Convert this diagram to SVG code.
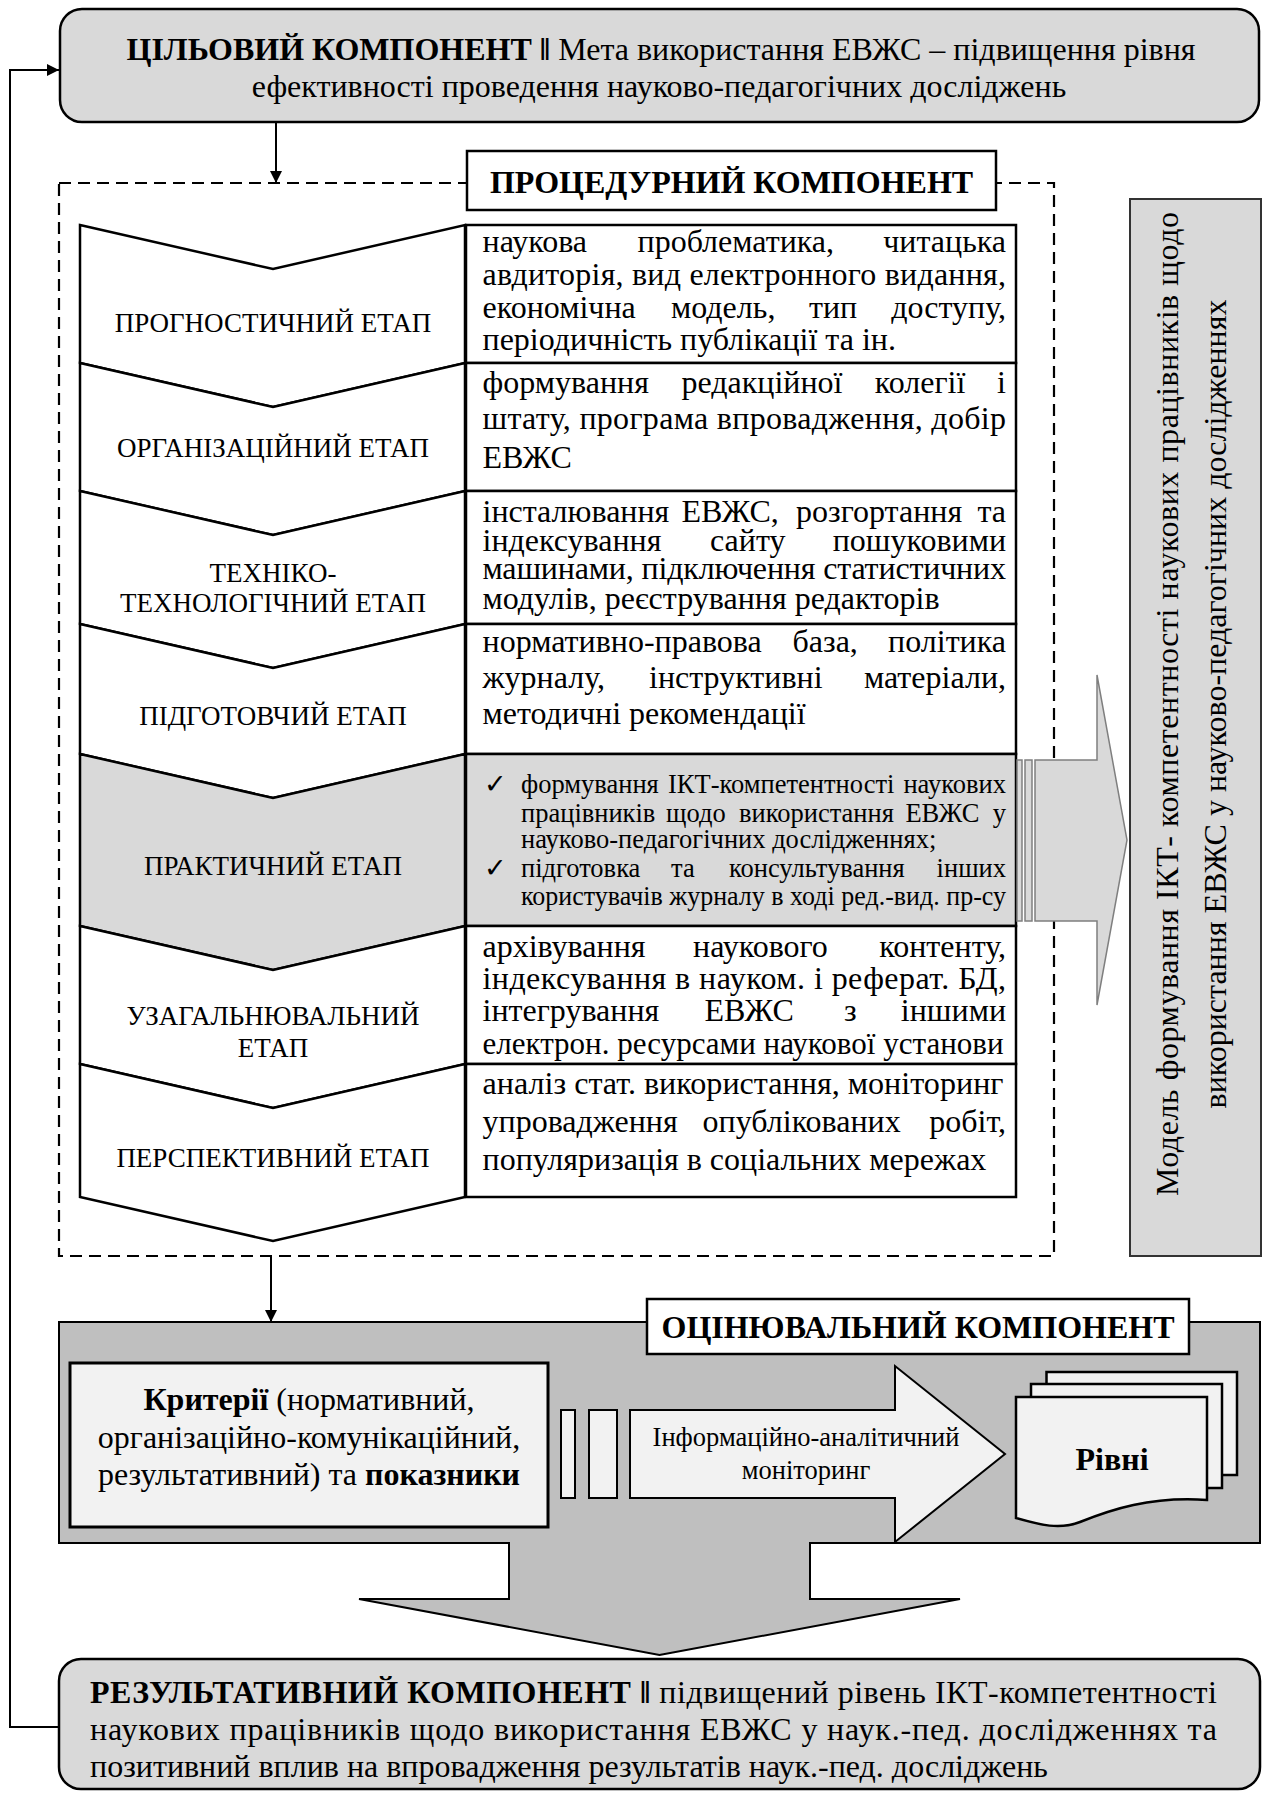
<svg xmlns="http://www.w3.org/2000/svg" width="1263" height="1795" viewBox="0 0 1263 1795">
<style>
text{font-family:"Liberation Serif","Times New Roman",serif;fill:#000}
.m{font-size:32px}
.s{font-size:26.5px}
.lab{font-size:27px;text-anchor:middle}
.b{font-weight:bold}
.c{text-anchor:middle}
.e{text-anchor:end}
.box{stroke:#000;stroke-width:2.5}
.chev{stroke:#000;stroke-width:2.5;stroke-linejoin:miter}
.conn{stroke:#000;stroke-width:2;fill:none}
</style>
<defs>
<marker id="ah2" viewBox="0 0 10 10" refX="10" refY="5" markerWidth="12" markerHeight="12" orient="auto" markerUnits="userSpaceOnUse">
<path d="M0,0 L10,5 L0,10 Z" fill="#000"/>
</marker>
</defs>

<g id="procedural-frame">
<rect x="59" y="183" width="995" height="1073" fill="none" stroke="#000" stroke-width="2.2" stroke-dasharray="12,7"/>
</g>

<g id="connectors">
<line class="conn" x1="276" y1="122" x2="276" y2="183" marker-end="url(#ah2)"/>
<line class="conn" x1="271" y1="1256" x2="271" y2="1322" marker-end="url(#ah2)"/>
<polyline class="conn" points="59,1727 10,1727 10,70 59,70" marker-end="url(#ah2)"/>
</g>

<g id="target">
<rect x="60" y="9" width="1199" height="113" rx="22" fill="#d9d9d9" class="box"/>
<text class="m c" x="661" y="60"><tspan class="b">ЦІЛЬОВИЙ КОМПОНЕНТ ‖</tspan> Мета використання ЕВЖС – підвищення рівня</text>
<text class="m c" x="659" y="97">ефективності проведення науково-педагогічних досліджень</text>
</g>

<g id="procedural-title">
<rect x="467" y="151" width="529" height="59" fill="#fff" stroke="#000" stroke-width="2.5"/>
<text class="m b c" x="731.5" y="193">ПРОЦЕДУРНИЙ КОМПОНЕНТ</text>
</g>

<g id="stage-1">
<polygon class="chev" fill="#fff" points="80,225 273,269 465,225 465,363 273,407 80,363"/>
<text class="lab" x="273" y="332">ПРОГНОСТИЧНИЙ ЕТАП</text>
</g>
<g id="stage-2">
<polygon class="chev" fill="#fff" points="80,363 273,407 465,363 465,491 273,535 80,491"/>
<text class="lab" x="273" y="457">ОРГАНІЗАЦІЙНИЙ ЕТАП</text>
</g>
<g id="stage-3">
<polygon class="chev" fill="#fff" points="80,491 273,535 465,491 465,624 273,668 80,624"/>
<text class="lab" x="273" y="582">ТЕХНІКО-</text>
<text class="lab" x="273" y="612">ТЕХНОЛОГІЧНИЙ ЕТАП</text>
</g>
<g id="stage-4">
<polygon class="chev" fill="#fff" points="80,624 273,668 465,624 465,754 273,798 80,754"/>
<text class="lab" x="273" y="725">ПІДГОТОВЧИЙ ЕТАП</text>
</g>
<g id="stage-5">
<polygon class="chev" fill="#d9d9d9" points="80,754 273,798 465,754 465,926 273,970 80,926"/>
<text class="lab" x="273" y="875">ПРАКТИЧНИЙ ЕТАП</text>
</g>
<g id="stage-6">
<polygon class="chev" fill="#fff" points="80,926 273,970 465,926 465,1064 273,1108 80,1064"/>
<text class="lab" x="273" y="1025">УЗАГАЛЬНЮВАЛЬНИЙ</text>
<text class="lab" x="273" y="1057">ЕТАП</text>
</g>
<g id="stage-7">
<polygon class="chev" fill="#fff" points="80,1064 273,1108 465,1064 465,1197 273,1241 80,1197"/>
<text class="lab" x="273" y="1167">ПЕРСПЕКТИВНИЙ ЕТАП</text>
</g>

<g id="desc-1">
<rect x="466" y="225" width="550" height="138" fill="#fff" class="box"/>
<text class="m" y="252"><tspan x="482.5">наукова</tspan><tspan x="637.5">проблематика,</tspan></text>
<text class="m e" x="1006" y="252">читацька</text>
<text class="m" x="482.5" y="285" textLength="523.5" lengthAdjust="spacing">авдиторія, вид електронного видання,</text>
<text class="m" y="317.5"><tspan x="482.5">економічна</tspan><tspan x="671">модель,</tspan><tspan x="809">тип</tspan></text>
<text class="m e" x="1006" y="317.5">доступу,</text>
<text class="m" x="482.5" y="350">періодичність публікації та ін.</text>
</g>
<g id="desc-2">
<rect x="466" y="363" width="550" height="128" fill="#fff" class="box"/>
<text class="m" y="393"><tspan x="482.5">формування</tspan><tspan x="681.5">редакційної</tspan><tspan x="874.8">колегії</tspan></text>
<text class="m e" x="1006" y="393">і</text>
<text class="m" x="482.5" y="429" textLength="523.5" lengthAdjust="spacing">штату, програма впровадження, добір</text>
<text class="m" x="482.5" y="468">ЕВЖС</text>
</g>
<g id="desc-3">
<rect x="466" y="491" width="550" height="133" fill="#fff" class="box"/>
<text class="m" y="522"><tspan x="482.5">інсталювання</tspan><tspan x="681.5">ЕВЖС,</tspan><tspan x="796">розгортання</tspan></text>
<text class="m e" x="1006" y="522">та</text>
<text class="m" y="550.5"><tspan x="482.5">індексування</tspan><tspan x="710">сайту</tspan></text>
<text class="m e" x="1006" y="550.5">пошуковими</text>
<text class="m" x="482.5" y="579" textLength="523.5" lengthAdjust="spacing">машинами, підключення статистичних</text>
<text class="m" x="482.5" y="608.5">модулів, реєстрування редакторів</text>
</g>
<g id="desc-4">
<rect x="466" y="624" width="550" height="130" fill="#fff" class="box"/>
<text class="m" y="652"><tspan x="482.5">нормативно-правова</tspan><tspan x="792.5">база,</tspan></text>
<text class="m e" x="1006" y="652">політика</text>
<text class="m" y="688"><tspan x="482.5">журналу,</tspan><tspan x="649">інструктивні</tspan></text>
<text class="m e" x="1006" y="688">матеріали,</text>
<text class="m" x="482.5" y="723.5">методичні рекомендації</text>
</g>
<g id="desc-5">
<rect x="466" y="754" width="550" height="172" fill="#d9d9d9" class="box"/>
<text class="s" x="484" y="793">✓</text>
<text class="s" y="793"><tspan x="521">формування</tspan><tspan x="668">ІКТ-компетентності</tspan></text>
<text class="s e" x="1006" y="793">наукових</text>
<text class="s" y="821.5"><tspan x="521">працівників</tspan><tspan x="666">щодо</tspan><tspan x="739">використання</tspan><tspan x="905.4">ЕВЖС</tspan></text>
<text class="s e" x="1006" y="821.5">у</text>
<text class="s" x="521" y="847.5">науково-педагогічних дослідженнях;</text>
<text class="s" x="484" y="876.5">✓</text>
<text class="s" y="876.5"><tspan x="521">підготовка</tspan><tspan x="671">та</tspan><tspan x="729">консультування</tspan></text>
<text class="s e" x="1006" y="876.5">інших</text>
<text class="s" x="521" y="905" textLength="485" lengthAdjust="spacingAndGlyphs">користувачів журналу в ході ред.-вид. пр-су</text>
</g>
<g id="desc-6">
<rect x="466" y="926" width="550" height="138" fill="#fff" class="box"/>
<text class="m" y="957"><tspan x="482.5">архівування</tspan><tspan x="693">наукового</tspan></text>
<text class="m e" x="1006" y="957">контенту,</text>
<text class="m" x="482.5" y="988.5" textLength="523.5" lengthAdjust="spacing">індексування в науком. і реферат. БД,</text>
<text class="m" y="1021"><tspan x="482.5">інтегрування</tspan><tspan x="704.5">ЕВЖС</tspan><tspan x="844">з</tspan></text>
<text class="m e" x="1006" y="1021">іншими</text>
<text class="m" x="482.5" y="1054" textLength="521" lengthAdjust="spacingAndGlyphs">електрон. ресурсами наукової установи</text>
</g>
<g id="desc-7">
<rect x="466" y="1064" width="550" height="133" fill="#fff" class="box"/>
<text class="m" x="482.5" y="1093.5" textLength="521" lengthAdjust="spacingAndGlyphs">аналіз стат. використання, моніторинг</text>
<text class="m" y="1131.5"><tspan x="482.5">упровадження</tspan><tspan x="702.6">опублікованих</tspan></text>
<text class="m e" x="1006" y="1131.5">робіт,</text>
<text class="m" x="482.5" y="1169.5">популяризація в соціальних мережах</text>
</g>

<g id="practice-arrow">
<rect x="1017" y="760" width="5" height="161" fill="#d9d9d9" stroke="#7f7f7f" stroke-width="1.5"/>
<rect x="1025" y="760" width="7" height="161" fill="#d9d9d9" stroke="#7f7f7f" stroke-width="1.5"/>
<polygon points="1035,760 1097,760 1097,675 1127,840 1097,1005 1097,921 1035,921" fill="#d9d9d9" stroke="#7f7f7f" stroke-width="1.5"/>
</g>

<g id="model">
<rect x="1130" y="199" width="131" height="1057" fill="#d9d9d9" stroke="#333" stroke-width="2"/>
<text class="m c" transform="translate(1178,704) rotate(-90)" textLength="984" lengthAdjust="spacing">Модель формування ІКТ- компетентності наукових працівників щодо</text>
<text class="m c" transform="translate(1226,704) rotate(-90)">використання ЕВЖС у науково-педагогічних дослідженнях</text>
</g>

<g id="evaluation">
<path d="M59,1322 H1260 V1543 H810 V1599 H960 L659.5,1655 L359,1599 H509 V1543 H59 Z" fill="#bfbfbf" stroke="#000" stroke-width="2"/>
</g>
<g id="evaluation-title">
<rect x="647" y="1299" width="542" height="55" fill="#fff" stroke="#000" stroke-width="2.5"/>
<text class="m b c" x="918" y="1338">ОЦІНЮВАЛЬНИЙ КОМПОНЕНТ</text>
</g>
<g id="criteria">
<rect x="70" y="1363" width="478" height="164" fill="#f2f2f2" stroke="#000" stroke-width="3"/>
<text class="m c" x="309" y="1410"><tspan class="b">Критерії</tspan> (нормативний,</text>
<text class="m c" x="309" y="1448">організаційно-комунікаційний,</text>
<text class="m c" x="309" y="1485">результативний) та <tspan class="b">показники</tspan></text>
</g>
<g id="monitoring">
<rect x="561" y="1410" width="14" height="88" fill="#f2f2f2" stroke="#000" stroke-width="2"/>
<rect x="589" y="1410" width="28" height="88" fill="#f2f2f2" stroke="#000" stroke-width="2"/>
<polygon points="630,1410 895,1410 895,1366 1005,1454 895,1542 895,1498 630,1498" fill="#f2f2f2" stroke="#000" stroke-width="2"/>
<text class="s c" x="806" y="1446">Інформаційно-аналітичний</text>
<text class="s c" x="806" y="1479">моніторинг</text>
</g>
<g id="levels">
<rect x="1046.5" y="1372" width="190.5" height="103" fill="#f2f2f2" stroke="#000" stroke-width="2.5"/>
<rect x="1031" y="1384" width="191" height="104" fill="#f2f2f2" stroke="#000" stroke-width="2.5"/>
<path d="M1016,1397 H1207 V1500 C1150,1496 1110,1510 1080,1522 C1060,1530 1040,1525 1016,1518 Z" fill="#f2f2f2" stroke="#000" stroke-width="2.5"/>
<text class="m b c" x="1112" y="1470">Рівні</text>
</g>

<g id="result">
<rect x="59" y="1659" width="1201" height="130" rx="22" fill="#d9d9d9" class="box"/>
<text class="m" x="90" y="1703" textLength="1127" lengthAdjust="spacing"><tspan class="b">РЕЗУЛЬТАТИВНИЙ КОМПОНЕНТ ‖</tspan> підвищений рівень ІКТ-компетентності</text>
<text class="m" x="90" y="1740" textLength="1127" lengthAdjust="spacing">наукових працівників щодо використання ЕВЖС у наук.-пед. дослідженнях та</text>
<text class="m" x="90" y="1777">позитивний вплив на впровадження результатів наук.-пед. досліджень</text>
</g>
</svg>
